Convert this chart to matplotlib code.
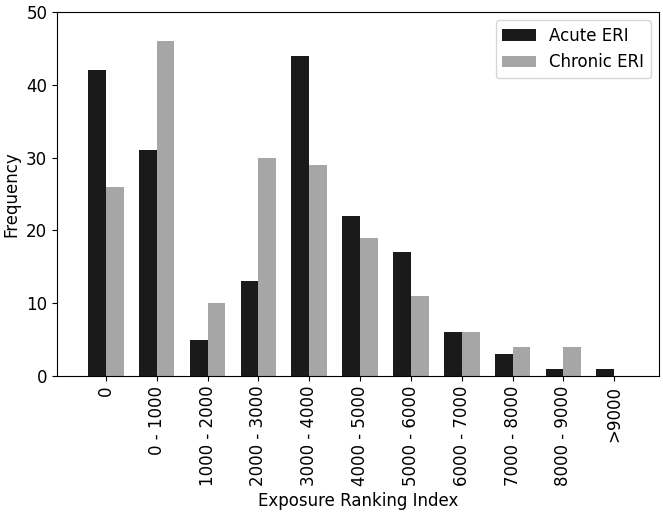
import matplotlib
matplotlib.use("Agg")
import matplotlib.pyplot as plt
import numpy as np

categories = ["0", "0 - 1000", "1000 - 2000", "2000 - 3000", "3000 - 4000", "4000 - 5000",
              "5000 - 6000", "6000 - 7000", "7000 - 8000", "8000 - 9000", ">9000"]
acute = [42, 31, 5, 13, 44, 22, 17, 6, 3, 1, 1]
chronic = [26, 46, 10, 30, 29, 19, 11, 6, 4, 4, 0]

fig = plt.figure(figsize=(6.63, 5.19), dpi=100)
ax = fig.add_axes([0.086, 0.2755, 0.908, 0.7015])
x = np.arange(len(categories))
w = 0.35
ax.bar(x - w/2, acute, w, color="#1a1a1a", label="Acute ERI")
ax.bar(x + w/2, chronic, w, color="#a6a6a6", label="Chronic ERI")
ax.set_xticks(x)
ax.set_xticklabels(categories, rotation=90, fontsize=12)
ax.set_xlim(-0.96, 10.88)
ax.set_ylim(0, 50)
ax.set_yticks([0, 10, 20, 30, 40, 50])
ax.tick_params(axis="y", labelsize=12)
ax.set_xlabel("Exposure Ranking Index", fontsize=12)
ax.set_ylabel("Frequency", fontsize=12)
ax.legend(loc="upper right", fontsize=12)
fig.savefig("out.png", dpi=100)
